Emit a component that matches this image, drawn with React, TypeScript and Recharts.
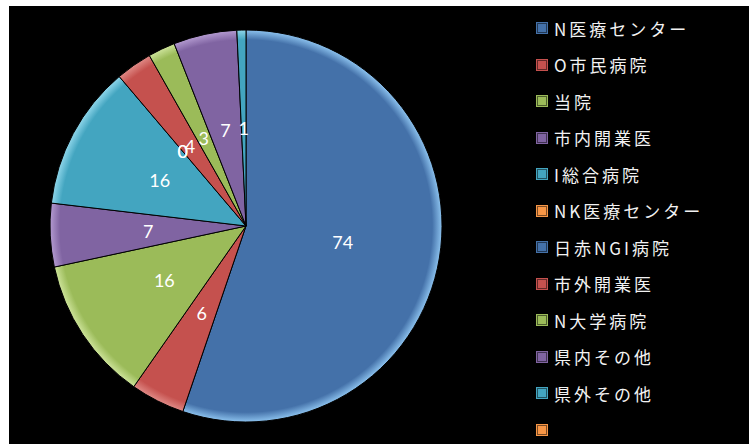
import React from 'react';
import { PieChart, Pie, Cell } from 'recharts';

const categories = [
  'N医療センター',
  'O市民病院',
  '当院',
  '市内開業医',
  'I総合病院',
  'NK医療センター',
  '日赤NGI病院',
  '市外開業医',
  'N大学病院',
  '県内その他',
  '県外その他',
  '',
];
const counts = [74, 6, 16, 7, 16, 0, 0, 4, 3, 7, 1];
const palette = ['#4471a9', '#c5514e', '#9bbb59', '#8064a2', '#43a5c0', '#f79646'];
const rims = ['#8cc2ee', '#e08a86', '#cde39a', '#b39ad0', '#8fd6ea', '#fbc38f'];

const CX = 237;
const CY = 220;
const R = 196;

const data = counts.map((value, i) => ({ name: categories[i], value }));

const renderLabel = (props: any) => {
  const { midAngle, value, cx, cy } = props;
  const rad = (Math.PI / 180) * midAngle;
  const r = R * 0.5;
  const x = cx + r * Math.cos(rad);
  const y = cy - r * Math.sin(rad);
  return (
    <text
      x={x}
      y={y}
      fill="#ffffff"
      fontSize={18}
      fontFamily="Lato, 'DejaVu Sans', sans-serif"
      textAnchor="middle"
      dominantBaseline="central"
    >
      {value}
    </text>
  );
};

const App: React.FC = () => {
  return (
    <div style={{ position: 'absolute', left: 9, top: 6, width: 740, height: 438, background: '#000' }}>
      <PieChart width={520} height={438} margin={{ top: 0, right: 0, bottom: 0, left: 0 }}>
        <defs>
          {palette.map((c, i) => (
            <radialGradient key={i} id={`rim-${i}`} cx={CX} cy={CY} r={R} gradientUnits="userSpaceOnUse">
              <stop offset="0%" stopColor={c} />
              <stop offset="95%" stopColor={c} />
              <stop offset="100%" stopColor={rims[i]} />
            </radialGradient>
          ))}
        </defs>
        <Pie
          data={data}
          dataKey="value"
          nameKey="name"
          cx={CX}
          cy={CY}
          outerRadius={R}
          startAngle={90}
          endAngle={-270}
          stroke="#000"
          strokeWidth={1}
          label={renderLabel}
          labelLine={false}
          isAnimationActive={false}
        >
          {data.map((_, i) => (
            <Cell key={`cell-${i}`} fill={`url(#rim-${i % palette.length})`} />
          ))}
        </Pie>
      </PieChart>
      <div style={{ position: 'absolute', left: 528, top: 4 }}>
        {categories.map((name, i) => (
          <div
            key={i}
            style={{ display: 'flex', alignItems: 'center', height: 36.5 }}
          >
            <span
              style={{
                width: 8,
                height: 8,
                background: palette[i % palette.length],
                border: '1px solid rgba(0,0,0,0.5)',
                boxShadow: `0 0 0 1px ${palette[i % palette.length]}`,
                marginRight: 7,
              }}
            />
            <span
              style={{
                color: '#f2f2f2',
                fontSize: 17,
                letterSpacing: 3,
                fontFamily: "'Noto Sans CJK JP', 'Noto Sans', sans-serif",
              }}
            >
              {name}
            </span>
          </div>
        ))}
      </div>
    </div>
  );
};

export default App;
